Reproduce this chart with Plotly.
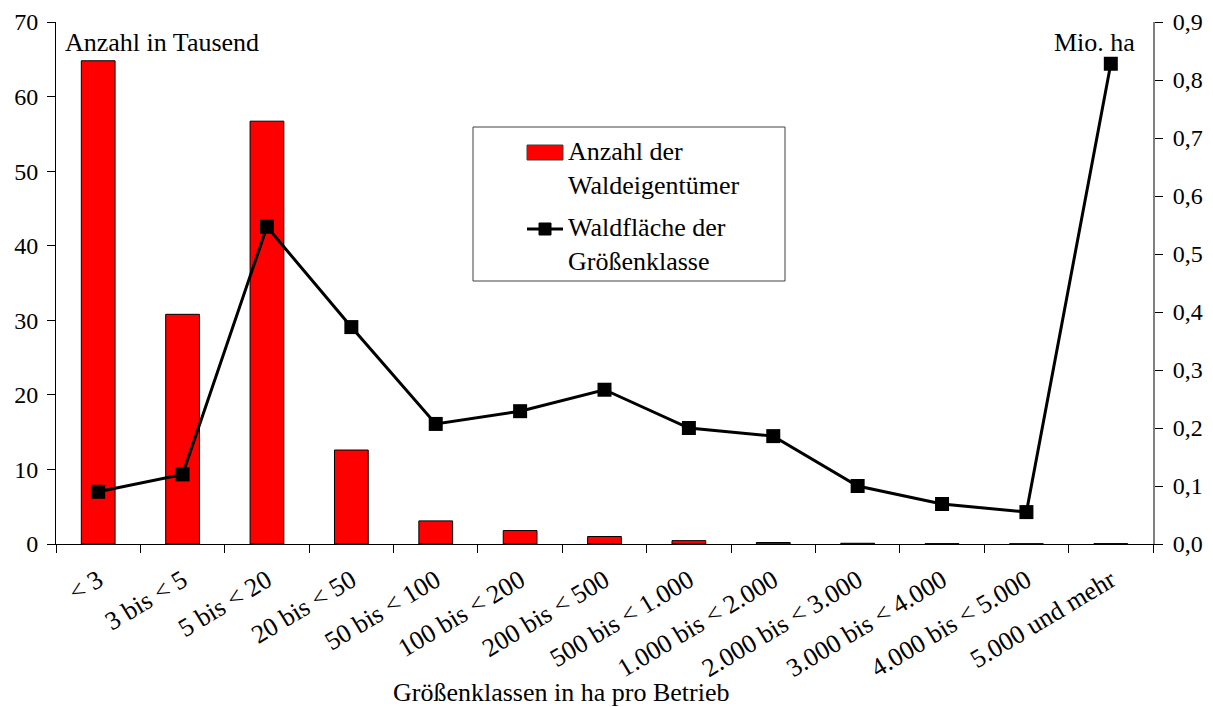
import plotly.graph_objects as go

# Größenklassen (ha pro Betrieb)
klassen = ["< 3", "3 bis < 5", "5 bis < 20", "20 bis < 50", "50 bis < 100",
           "100 bis < 200", "200 bis < 500", "500 bis < 1.000", "1.000 bis < 2.000",
           "2.000 bis < 3.000", "3.000 bis < 4.000", "4.000 bis < 5.000", "5.000 und mehr"]

# Anzahl der Waldeigentümer (in Tausend)
anzahl = [64.8, 30.8, 56.7, 12.6, 3.1, 1.8, 1.0, 0.45, 0.2, 0.1, 0.05, 0.03, 0.05]

# Waldfläche der Größenklasse (Mio. ha)
flaeche = [0.09, 0.12, 0.547, 0.374, 0.207, 0.229, 0.266, 0.2, 0.186, 0.1, 0.069, 0.055, 0.828]

left_ticks = [0, 10, 20, 30, 40, 50, 60, 70]
right_ticks = [0, 0.1, 0.2, 0.3, 0.4, 0.5, 0.6, 0.7, 0.8, 0.9]
right_text = ["0,0", "0,1", "0,2", "0,3", "0,4", "0,5", "0,6", "0,7", "0,8", "0,9"]

font = "Liberation Serif, Times New Roman, serif"

# the page body has an 8px margin, so the figure is a bit smaller than the window
W, H = 1205, 699
L, R, T, B = 48, 60, 14, 163
pw, ph = W - L - R, H - T - B


# page pixel -> paper coords (for the hand-drawn legend box)
def px(x):
    return (x - 8 - L) / pw


def py(y):
    return (H - B - (y - 8)) / ph


fig = go.Figure()

fig.add_trace(go.Bar(
    x=klassen, y=anzahl,
    name="Anzahl der Waldeigentümer",
    marker=dict(color="#ff0000", line=dict(color="black", width=1)),
    yaxis="y",
))

fig.add_trace(go.Scatter(
    x=klassen, y=flaeche,
    name="Waldfläche der Größenklasse",
    mode="lines+markers",
    line=dict(color="black", width=3),
    marker=dict(symbol="square", size=14, color="black"),
    yaxis="y2",
))

tick_font = dict(size=24)

fig.update_layout(
    width=W, height=H,
    margin=dict(l=L, r=R, t=T, b=B, autoexpand=False),
    paper_bgcolor="white", plot_bgcolor="white",
    font=dict(family=font, size=26, color="black"),
    bargap=0.6,
    showlegend=False,
    xaxis=dict(
        type="category", range=[-0.5, len(klassen) - 0.5],
        tickangle=-31, tickson="boundaries", ticklabelstandoff=10,
        ticks="outside", ticklen=8, tickcolor="black",
        showline=True, linecolor="black", linewidth=1,
        showgrid=False, tickfont=dict(size=26),
    ),
    yaxis=dict(
        range=[0, 70], tickvals=left_ticks, ticks="outside", ticklen=8,
        ticklabelstandoff=4,
        tickcolor="black", showline=True, linecolor="black", linewidth=1,
        showgrid=False, zeroline=False, tickfont=tick_font,
    ),
    yaxis2=dict(
        range=[0, 0.9], tickvals=right_ticks, ticktext=right_text,
        overlaying="y", side="right", ticks="outside", ticklen=8,
        ticklabelstandoff=5,
        tickcolor="black", showline=True, linecolor="#808080", linewidth=2,
        showgrid=False, zeroline=False, tickfont=tick_font,
    ),
    # inner halves of the crossing tick marks
    yaxis3=dict(
        range=[0, 70], tickvals=left_ticks, overlaying="y", side="left",
        ticks="inside", ticklen=8, tickcolor="black", showticklabels=False,
        showline=False, showgrid=False, zeroline=False,
    ),
    yaxis4=dict(
        range=[0, 0.9], tickvals=right_ticks, overlaying="y", side="right",
        ticks="inside", ticklen=8, tickcolor="black", showticklabels=False,
        showline=False, showgrid=False, zeroline=False,
    ),
    shapes=[
        dict(type="rect", xref="paper", yref="paper",
             x0=px(473), x1=px(785), y0=py(281), y1=py(127),
             line=dict(color="#404040", width=1), fillcolor="white"),
        dict(type="rect", xref="paper", yref="paper",
             x0=px(527), x1=px(563), y0=py(160), y1=py(145),
             line=dict(color="#404040", width=1), fillcolor="#ff0000"),
        dict(type="line", xref="paper", yref="paper",
             x0=px(527), x1=px(563), y0=py(229), y1=py(229),
             line=dict(color="black", width=3)),
        dict(type="rect", xref="paper", yref="paper",
             x0=px(539), x1=px(551), y0=py(235), y1=py(223),
             line=dict(color="black", width=1), fillcolor="black"),
    ],
    annotations=[
        dict(text="Anzahl in Tausend", xref="paper", yref="paper",
             x=px(63), y=py(42), xanchor="left", yanchor="middle",
             showarrow=False),
        dict(text="Mio. ha", xref="paper", yref="paper",
             x=px(1137), y=py(42), xanchor="right", yanchor="middle",
             showarrow=False),
        dict(text="Größenklassen in ha pro Betrieb", xref="paper", yref="paper",
             x=px(561), y=py(692), xanchor="center", yanchor="middle",
             showarrow=False),
        dict(text="Anzahl der<br>Waldeigentümer", xref="paper", yref="paper",
             x=px(566), y=py(168), xanchor="left", yanchor="middle",
             align="left", showarrow=False),
        dict(text="Waldfläche der<br>Größenklasse", xref="paper", yref="paper",
             x=px(566), y=py(244), xanchor="left", yanchor="middle",
             align="left", showarrow=False),
    ],
)

fig.write_html("out.html")
